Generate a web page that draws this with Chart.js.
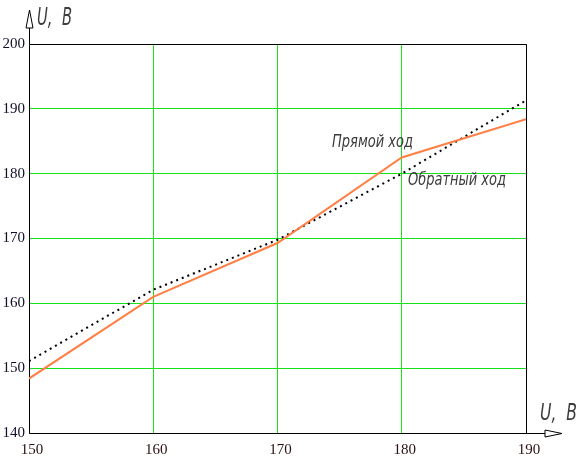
<!DOCTYPE html>
<html lang="ru">
<head>
    <meta charset="UTF-8">
    <title>U, B</title>
    <script src="https://cdn.jsdelivr.net/npm/chart.js"></script>
    <style>
        body { margin: 0; background: #fff; }
        canvas { display: block; }
    </style>
</head>
<body>
    <canvas id="chart" width="583" height="462"></canvas>

    <script>
        // data
        const xValues = [150, 160, 170, 180, 190];
        const forwardValues = [148.4, 161.0, 169.3, 182.5, 188.4]; // Прямой ход
        const reverseValues = [151.1, 162.1, 169.8, 180.0, 191.3]; // Обратный ход
        const xTicks = [150, 160, 170, 180, 190];
        const yTicks = [140, 150, 160, 170, 180, 190, 200];

        const gridGreen = '#18e018';

        function toPoints(ys) {
            return xValues.map((x, i) => ({ x: x, y: ys[i] }));
        }

        // italic narrow text, squeezed to the width seen in the picture
        function narrowText(ctx, text, x, baseline, width, size) {
            ctx.save();
            ctx.font = 'italic 300 ' + size + 'px "DejaVu Sans"';
            ctx.fillStyle = '#3c3c3c';
            ctx.textBaseline = 'alphabetic';
            const w = ctx.measureText(text).width;
            ctx.translate(x, baseline);
            ctx.scale(width / w, 1);
            ctx.fillText(text, 0, 0);
            ctx.restore();
        }

        const framePlugin = {
            id: 'frame',
            beforeDatasetsDraw(chart) {
                const { ctx, chartArea: a } = chart;
                ctx.save();
                ctx.strokeStyle = '#000';
                ctx.lineWidth = 1;
                ctx.beginPath();
                ctx.rect(Math.round(a.left) + 0.5, Math.round(a.top) + 0.5,
                    Math.round(a.right - a.left), Math.round(a.bottom - a.top));
                ctx.stroke();
                ctx.restore();
            },
            afterDraw(chart) {
                const { ctx, chartArea: a } = chart;
                const left = Math.round(a.left) + 0.5;
                const bottom = Math.round(a.bottom) + 0.5;
                const right = Math.round(a.right);

                ctx.save();
                ctx.strokeStyle = '#000';
                ctx.fillStyle = '#fff';
                ctx.lineWidth = 1;

                // y axis arrow
                ctx.beginPath();
                ctx.moveTo(left, a.top);
                ctx.lineTo(left, 28);
                ctx.stroke();
                ctx.beginPath();
                ctx.moveTo(left, 10);
                ctx.lineTo(left - 3.5, 28);
                ctx.lineTo(left + 3.5, 28);
                ctx.closePath();
                ctx.fill();
                ctx.stroke();

                // x axis arrow
                ctx.beginPath();
                ctx.moveTo(right, bottom);
                ctx.lineTo(545, bottom);
                ctx.stroke();
                ctx.beginPath();
                ctx.moveTo(562, bottom);
                ctx.lineTo(545, bottom - 3.5);
                ctx.lineTo(545, bottom + 3.5);
                ctx.closePath();
                ctx.fill();
                ctx.stroke();
                ctx.restore();

                narrowText(ctx, 'U,  B', 37, 25, 35, 24);
                narrowText(ctx, 'U,  B', 540, 420, 37, 23);
                narrowText(ctx, 'Прямой ход', 332, 147, 81, 17);
                narrowText(ctx, 'Обратный ход', 408, 185, 98, 17);
            }
        };

        new Chart(document.getElementById('chart'), {
            type: 'line',
            data: {
                datasets: [{
                    label: 'Прямой ход',
                    data: toPoints(forwardValues),
                    borderColor: '#ff7f45',
                    borderWidth: 2,
                    pointRadius: 0,
                    tension: 0
                }, {
                    label: 'Обратный ход',
                    data: toPoints(reverseValues),
                    borderColor: '#000',
                    borderWidth: 2,
                    borderDash: [2, 4],
                    borderCapStyle: 'butt',
                    pointRadius: 0,
                    tension: 0
                }]
            },
            options: {
                responsive: false,
                animation: false,
                events: [],
                layout: { padding: { top: 44, right: 57, left: 0, bottom: 0 } },
                plugins: {
                    legend: { display: false },
                    tooltip: { enabled: false }
                },
                scales: {
                    x: {
                        type: 'linear',
                        min: 150,
                        max: 190,
                        afterBuildTicks: s => { s.ticks = xTicks.map(v => ({ value: v })); },
                        afterFit: s => { s.height = 29; },
                        grid: { color: gridGreen, lineWidth: 1, drawTicks: false },
                        border: { display: false },
                        ticks: {
                            padding: 8,
                            labelOffset: 3,
                            maxRotation: 0,
                            color: '#2a1010',
                            font: { family: '"Liberation Serif"', size: 15 }
                        }
                    },
                    y: {
                        type: 'linear',
                        min: 140,
                        max: 200,
                        afterBuildTicks: s => { s.ticks = yTicks.map(v => ({ value: v })); },
                        afterFit: s => { s.width = 29; },
                        grid: { color: gridGreen, lineWidth: 1, drawTicks: false },
                        border: { display: false },
                        ticks: {
                            padding: 4,
                            color: '#10102a',
                            font: { family: '"Liberation Serif"', size: 15 }
                        }
                    }
                }
            },
            plugins: [framePlugin]
        });
    </script>
</body>
</html>
